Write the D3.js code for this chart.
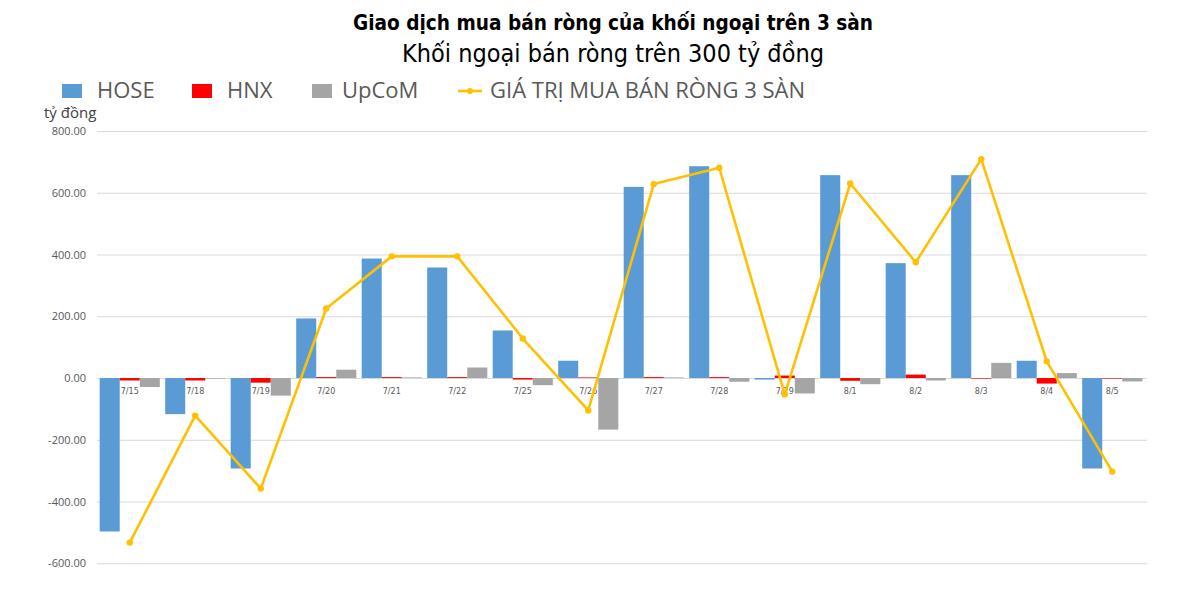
<!DOCTYPE html>
<html>
<head>
    <meta charset="utf-8">
    <style>
        body { margin: 0; background: white; }
        svg { display: block; }
        .grid .tick line { stroke: #d9d9d9; stroke-width: 1px; }
        .grid .domain { display: none; }
        .grid .tick text {
            font-family: 'Open Sans', sans-serif;
            font-size: 11px;
            fill: #595959;
        }
        .xlab text {
            font-family: 'DejaVu Sans', sans-serif;
            font-size: 8px;
            fill: #595959;
        }
    </style>
</head>
<body>
<svg width="1200" height="596"></svg>

<script src="https://cdn.jsdelivr.net/npm/d3@7"></script>
<script>

    // values (tỷ đồng)
    let dates = ["7/15", "7/18", "7/19", "7/20", "7/21", "7/22", "7/25", "7/26",
                 "7/27", "7/28", "7/29", "8/1", "8/2", "8/3", "8/4", "8/5"];
    let hose  = [-497, -117, -293, 193, 387, 358, 154, 56, 619, 686, -5, 657, 372, 657, 56, -293];
    let hnx   = [-8, -8, -15, 3, 3, 3, -5, 2, 3, 3, 8, -9, 11, -2, -18, -2];
    let upcom = [-29, -2, -57, 27, 2, 34, -23, -167, 2, -12, -50, -20, -8, 49, 16, -11];
    let total = [-533, -122, -358, 225, 394, 394, 128, -105, 628, 681, -53, 630, 375, 709, 54, -303];
    let yTicks = [-600, -400, -200, 0, 200, 400, 600, 800];

    let seriesNames = ["HOSE", "HNX", "UpCoM"];
    let colors = { HOSE: "#5b9bd5", HNX: "#ff0000", UpCoM: "#a5a5a5" };
    let lineColor = "#ffc000";

    let margin = { top: 131, right: 55, bottom: 33, left: 97 };
    let width = 1200;
    let height = 596;

    let svg = d3.select("svg");

    let x0 = d3.scaleBand()
        .domain(dates)
        .range([margin.left, width - margin.right])
        .padding(0);

    let bw = x0.bandwidth();
    let x1 = d3.scaleBand()
        .domain(seriesNames)
        .range([bw * 0.041, bw * 0.959])
        .padding(0);

    let y = d3.scaleLinear()
        .domain([-600, 800])
        .range([563.3, margin.top]);

    // gridlines + y labels (plain hyphen for negatives, like Excel)
    let fmt = d3.format(".2f");
    let yAxis = d3.axisLeft(y)
        .tickValues(yTicks)
        .tickSize(-(width - margin.right - margin.left + 2))
        .tickPadding(11)
        .tickFormat(d => fmt(d).replace("\u2212", "-"));

    svg.append("g")
        .attr("class", "grid")
        .attr("transform", `translate(${margin.left},0)`)
        .call(yAxis);

    // bars
    let rows = dates.map(function (d, i) {
        return { date: d, HOSE: hose[i], HNX: hnx[i], UpCoM: upcom[i] };
    });

    let groups = svg.append("g")
        .selectAll("g")
        .data(rows)
        .join("g")
        .attr("transform", d => `translate(${x0(d.date)},0)`);

    groups.selectAll("rect")
        .data(d => seriesNames.map(k => ({ key: k, value: d[k] })))
        .join("rect")
        .attr("x", d => x1(d.key))
        .attr("width", x1.bandwidth())
        .attr("y", d => Math.min(y(d.value), y(0)))
        .attr("height", d => Math.abs(y(d.value) - y(0)))
        .style("fill", d => colors[d.key]);

    // category labels just under the zero line
    svg.append("g")
        .attr("class", "xlab")
        .selectAll("text")
        .data(dates)
        .join("text")
        .attr("x", d => x0(d) + bw / 2)
        .attr("y", y(0) + 16)
        .attr("text-anchor", "middle")
        .text(d => d);

    // total line
    let line = d3.line()
        .x((d, i) => x0(dates[i]) + bw / 2)
        .y(d => y(d));

    svg.append("path")
        .attr("d", line(total))
        .style("fill", "none")
        .style("stroke", lineColor)
        .style("stroke-width", 2.6)
        .style("stroke-linejoin", "round");

    svg.append("g")
        .selectAll("circle")
        .data(total)
        .join("circle")
        .attr("cx", (d, i) => x0(dates[i]) + bw / 2)
        .attr("cy", d => y(d))
        .attr("r", 3.2)
        .style("fill", lineColor);

    // titles
    let narrow = "'Liberation Sans Narrow', 'Arial Narrow', 'DejaVu Sans Condensed', sans-serif";
    svg.append("text").text("Giao dịch mua bán ròng của khối ngoại trên 3 sàn")
        .attr("x", 613)
        .attr("y", 30)
        .attr("text-anchor", "middle")
        .attr("fill", "#000")
        .attr("font-size", "20.6px")
        .attr("font-weight", "bold")
        .attr("font-family", narrow);

    svg.append("text").text("Khối ngoại bán ròng trên 300 tỷ đồng")
        .attr("x", 613)
        .attr("y", 62)
        .attr("text-anchor", "middle")
        .attr("fill", "#000")
        .attr("font-size", "25px")
        .attr("font-family", narrow);

    // legend
    let legendFont = "'Open Sans', sans-serif";
    let legendItems = [
        { name: "HOSE", sx: 62, tx: 97 },
        { name: "HNX", sx: 192, tx: 227 },
        { name: "UpCoM", sx: 312, tx: 342 }
    ];
    legendItems.forEach(function (d) {
        svg.append("rect")
            .attr("x", d.sx)
            .attr("y", 84)
            .attr("width", 20)
            .attr("height", 14)
            .style("fill", colors[d.name]);
        svg.append("text").text(d.name)
            .attr("x", d.tx)
            .attr("y", 98)
            .attr("fill", "#595959")
            .attr("font-size", "22px")
            .attr("font-family", legendFont);
    });

    svg.append("line")
        .attr("x1", 458).attr("x2", 482)
        .attr("y1", 91).attr("y2", 91)
        .style("stroke", lineColor)
        .style("stroke-width", 2.6);
    svg.append("circle")
        .attr("cx", 470).attr("cy", 91).attr("r", 3)
        .style("fill", lineColor);
    svg.append("text").text("GIÁ TRỊ MUA BÁN RÒNG 3 SÀN")
        .attr("x", 490)
        .attr("y", 98)
        .attr("fill", "#595959")
        .attr("font-size", "22px")
        .attr("font-family", legendFont);

    svg.append("text").text("tỷ đồng")
        .attr("x", 44)
        .attr("y", 118)
        .attr("fill", "#404040")
        .attr("font-size", "15px")
        .attr("font-family", legendFont);

</script>
</body>
</html>
